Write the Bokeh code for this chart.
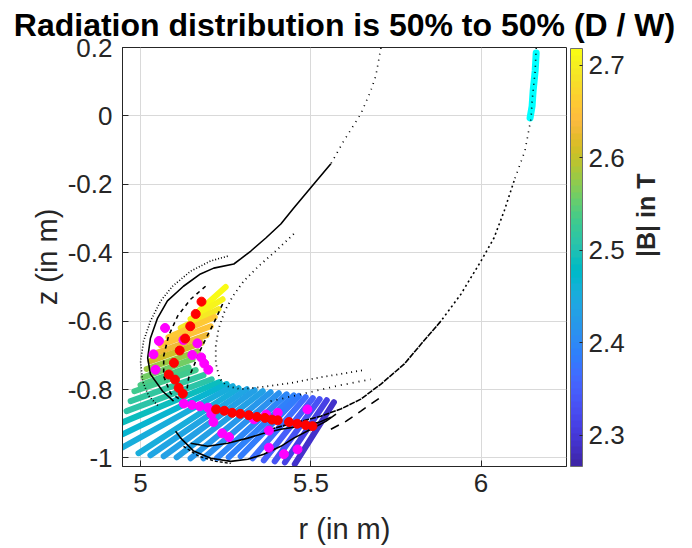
import numpy as np
from bokeh.plotting import figure
from bokeh.models import (ColumnDataSource, Range1d, FixedTicker, ColorBar, LinearColorMapper,
                          LinearAxis)
from bokeh.transform import linear_cmap
from bokeh.embed import file_html
from bokeh.resources import INLINE

# ---------------- data (r, z in m; B in T) ----------------
B_LOW, B_HIGH = 2.266, 2.718

# coloured line-of-sight strokes: lower-left end (r0,z0) -> upper-right end (r1,z1), |B|
stroke_r0 = [5.174, 5.147, 5.118, 5.082, 5.059, 5.044, 5.029, 5.018, 5.009, 5.000,
             4.982, 4.971, 4.959, 4.947, 4.947, 4.947, 4.994, 5.029, 5.068, 5.106,
             5.147, 5.185, 5.224, 5.259, 5.294, 5.329, 5.362, 5.394, 5.424, 5.453]
stroke_z0 = [-0.568, -0.594, -0.620, -0.647, -0.670, -0.694, -0.717, -0.740, -0.764, -0.787,
             -0.805, -0.834, -0.863, -0.896, -0.931, -0.969, -0.986, -0.992, -0.995, -0.998,
             -1.001, -1.001, -1.001, -0.998, -0.995, -1.001, -1.007, -1.010, -1.013, -1.018]
stroke_r1 = [5.250, 5.241, 5.229, 5.218, 5.206, 5.194, 5.179, 5.168, 5.153, 5.141,
             5.162, 5.185, 5.209, 5.232, 5.253, 5.271, 5.288, 5.312, 5.335, 5.359,
             5.382, 5.406, 5.429, 5.450, 5.465, 5.485, 5.506, 5.526, 5.547, 5.568]
stroke_z1 = [-0.500, -0.536, -0.565, -0.588, -0.615, -0.641, -0.664, -0.688, -0.711, -0.735,
             -0.743, -0.758, -0.770, -0.778, -0.784, -0.790, -0.796, -0.799, -0.802, -0.805,
             -0.808, -0.811, -0.814, -0.817, -0.819, -0.822, -0.825, -0.828, -0.831, -0.837]
stroke_B = [2.72, 2.71, 2.69, 2.66, 2.65, 2.63, 2.61, 2.58, 2.56, 2.54,
            2.53, 2.52, 2.51, 2.49, 2.47, 2.45, 2.45, 2.44, 2.43, 2.43,
            2.42, 2.41, 2.40, 2.39, 2.38, 2.37, 2.35, 2.33, 2.31, 2.29]

# red points
red_r = [5.179, 5.162, 5.146, 5.131, 5.115, 5.098, 5.083, 5.101, 5.112, 5.124,
         5.222, 5.246, 5.269, 5.293, 5.318, 5.342, 5.365, 5.386, 5.403, 5.436,
         5.460, 5.485, 5.505]
red_z = [-0.543, -0.579, -0.615, -0.651, -0.686, -0.722, -0.756, -0.771, -0.795, -0.812,
         -0.858, -0.862, -0.868, -0.871, -0.875, -0.880, -0.883, -0.888, -0.890, -0.895,
         -0.900, -0.904, -0.907]

# magenta points
mag_r = [5.072, 5.054, 5.038, 5.044, 5.126, 5.167, 5.152, 5.178, 5.187, 5.199,
         5.127, 5.151, 5.174, 5.198, 5.208, 5.214, 5.240, 5.260, 5.333, 5.369,
         5.403, 5.377, 5.377, 5.421, 5.461, 5.490]
mag_z = [-0.620, -0.658, -0.697, -0.742, -0.655, -0.665, -0.699, -0.706, -0.724, -0.742,
         -0.841, -0.845, -0.849, -0.853, -0.872, -0.895, -0.928, -0.939, -0.887, -0.873,
         -0.868, -0.920, -0.970, -0.989, -0.975, -0.858]

# cyan section on the outer wall
cyan_r = [6.162, 6.159, 6.153, 6.150, 6.144]
cyan_z = [0.184, 0.132, 0.073, 0.029, -0.006]

# black field-line traces
outer_top_r = [6.162, 6.159, 6.150, 6.147, 6.129, 6.097]
outer_top_z = [0.199, 0.132, 0.044, -0.006, -0.102, -0.190]
outer_mid_r = [6.097, 6.068, 6.038, 6.000, 5.941, 5.882]
outer_mid_z = [-0.190, -0.278, -0.357, -0.424, -0.521, -0.600]
outer_low_r = [5.882, 5.824, 5.774, 5.706, 5.647, 5.588, 5.529, 5.471, 5.426, 5.382]
outer_low_z = [-0.600, -0.667, -0.726, -0.784, -0.828, -0.857, -0.878, -0.893, -0.904, -0.916]

inner_top_r = [5.706, 5.691, 5.676, 5.647, 5.597, 5.559]
inner_top_z = [0.199, 0.117, 0.073, 0.006, -0.073, -0.140]
inner_leg_r = [5.559, 5.509, 5.450, 5.412, 5.368, 5.324, 5.294, 5.274,
               5.215, 5.176, 5.126, 5.079, 5.050, 5.029, 5.021, 5.029, 5.065, 5.097]
inner_leg_z = [-0.140, -0.199, -0.269, -0.316, -0.357, -0.395, -0.418, -0.433,
               -0.445, -0.462, -0.498, -0.541, -0.591, -0.650, -0.708, -0.755, -0.805, -0.834]

hook_out_r = [5.256, 5.206, 5.147, 5.094, 5.059, 5.029, 5.009, 5.000, 5.006, 5.024, 5.053]
hook_out_z = [-0.410, -0.424, -0.454, -0.498, -0.541, -0.600, -0.658, -0.717, -0.776, -0.819, -0.849]

hook_in_r = [5.450, 5.397, 5.347, 5.303, 5.271, 5.247, 5.229, 5.221, 5.221, 5.232, 5.253,
             5.294, 5.353, 5.441, 5.529, 5.603, 5.656]
hook_in_z = [-0.345, -0.395, -0.439, -0.483, -0.527, -0.571, -0.623, -0.673, -0.723, -0.767, -0.790,
             -0.799, -0.793, -0.781, -0.764, -0.752, -0.743]

hook_in2_r = [5.382, 5.471, 5.574, 5.676]
hook_in2_z = [-0.834, -0.814, -0.790, -0.770]

dash1_r = [5.241, 5.215, 5.191, 5.171, 5.156, 5.141, 5.135]
dash1_z = [-0.550, -0.606, -0.653, -0.694, -0.732, -0.767, -0.811]
dash2_r = [5.191, 5.147, 5.109, 5.082, 5.068, 5.068, 5.088, 5.124]
dash2_z = [-0.498, -0.536, -0.585, -0.644, -0.702, -0.761, -0.811, -0.834]

lobe_out_r = [5.103, 5.118, 5.156, 5.206, 5.265, 5.315, 5.362, 5.412, 5.450, 5.500, 5.544, 5.574]
lobe_out_z = [-0.922, -0.942, -0.980, -1.001, -1.010, -1.004, -0.989, -0.966, -0.942, -0.916, -0.893, -0.872]
lobe_in_r = [5.147, 5.197, 5.256, 5.315, 5.362, 5.412, 5.471, 5.524, 5.559]
lobe_in_z = [-0.957, -0.966, -0.957, -0.942, -0.928, -0.916, -0.907, -0.896, -0.881]
lobe_low_r = [5.126, 5.171, 5.221, 5.265]
lobe_low_z = [-0.966, -0.995, -1.010, -1.016]
leg_dash_r = [5.559, 5.603, 5.647, 5.706]
leg_dash_z = [-0.916, -0.893, -0.863, -0.822]

x_ticks = [5, 5.5, 6]
y_ticks = [-1, -0.8, -0.6, -0.4, -0.2, 0, 0.2]
cb_ticks = [2.3, 2.4, 2.5, 2.6, 2.7]

PARULA = ["#3e26a8", "#402ab4", "#422ec0", "#4332cb", "#4537d5", "#463cde", "#4741e5", "#4747eb",
          "#484df0", "#4852f4", "#4758f8", "#465efb", "#4563fd", "#4269fe", "#3e6fff", "#3875fe",
          "#327cfc", "#2f81fa", "#2e87f7", "#2d8cf3", "#2b91ef", "#2797eb", "#259be8", "#23a0e5",
          "#20a5e3", "#1ca9df", "#18addb", "#12b1d6", "#08b5d0", "#01b8ca", "#02bac3", "#0bbdbd",
          "#19bfb6", "#24c1ae", "#2cc4a7", "#31c69f", "#37c897", "#3fca8e", "#4acb84", "#57cc7a",
          "#64cd6f", "#72cd64", "#81cc59", "#8fcb4e", "#9dc943", "#abc739", "#b9c431", "#c5c22a",
          "#d1bf27", "#dcbd29", "#e6bb2d", "#f0ba36", "#f8ba3d", "#febe3c", "#fec338", "#fec934",
          "#fccf30", "#fad62d", "#f7dc2a", "#f5e327", "#f5e924", "#f6ef20", "#f7f51b", "#f9fb15"]

FONT = "Liberation Sans"
AX = "#262626"

# ---------------- main axes ----------------
p = figure(width=692, height=548, x_range=Range1d(4.947, 6.251), y_range=Range1d(-1.025, 0.2),
           output_backend="svg", toolbar_location=None,
           min_border_left=122, min_border_right=126, min_border_top=47, min_border_bottom=82)
p.title.text = "Radiation distribution is 50% to 50% (D / W)"
p.title.align = "center"
p.title.vertical_align = "bottom"
p.title.text_font = FONT
p.title.text_font_size = "32px"
p.title.text_font_style = "bold"
p.title.text_color = "black"
p.title.standoff = 9

p.xaxis.ticker = FixedTicker(ticks=x_ticks)
p.yaxis.ticker = FixedTicker(ticks=y_ticks)
p.xaxis.major_label_overrides = {t: f"{t:g}" for t in x_ticks}
p.yaxis.major_label_overrides = {t: f"{t:g}" for t in y_ticks}
p.xaxis.axis_label = "r (in m)"
p.yaxis.axis_label = "z (in m)"
for ax in (p.xaxis[0], p.yaxis[0]):
    ax.axis_line_color = AX
    ax.major_tick_line_color = AX
    ax.major_tick_in = 6
    ax.major_tick_out = 0
    ax.minor_tick_line_color = None
    ax.major_label_text_font = FONT
    ax.major_label_text_font_size = "26px"
    ax.major_label_text_color = AX
    ax.axis_label_text_font = FONT
    ax.axis_label_text_font_size = "29px"
    ax.axis_label_text_font_style = "normal"
    ax.axis_label_text_color = AX
p.xaxis.major_label_standoff = 7
p.yaxis.major_label_standoff = 10
p.xaxis.axis_label_standoff = 18
p.yaxis.axis_label_standoff = 2
p.grid.grid_line_color = "#d9d9d9"
p.outline_line_color = AX

src = ColumnDataSource(dict(r0=stroke_r0, z0=stroke_z0, r1=stroke_r1, z1=stroke_z1, B=stroke_B))
p.segment(x0="r0", y0="z0", x1="r1", y1="z1", source=src, line_width=6, line_cap="round",
          line_color=linear_cmap("B", PARULA, B_LOW, B_HIGH))

p.line(cyan_r, cyan_z, line_color="cyan", line_width=7, line_cap="round")

p.line(outer_top_r, outer_top_z, line_color="black", line_width=1.6, line_dash="1 5")
p.line(outer_mid_r, outer_mid_z, line_color="black", line_width=1.6, line_dash="2 3")
p.line(outer_low_r, outer_low_z, line_color="black", line_width=1.6, line_dash="6 1")
p.line(inner_top_r, inner_top_z, line_color="black", line_width=1.6, line_dash="1 5")
p.line(inner_leg_r, inner_leg_z, line_color="black", line_width=1.6)
p.line(hook_out_r, hook_out_z, line_color="black", line_width=1.6, line_dash="1 2")
p.line(hook_in_r, hook_in_z, line_color="black", line_width=1.8, line_dash="1 4")
p.line(hook_in2_r, hook_in2_z, line_color="black", line_width=1.8, line_dash="1 5")
p.line(dash1_r, dash1_z, line_color="black", line_width=1.6, line_dash="4 4")
p.line(dash2_r, dash2_z, line_color="black", line_width=1.6, line_dash="4 4")
p.line(lobe_out_r, lobe_out_z, line_color="black", line_width=1.6)
p.line(lobe_in_r, lobe_in_z, line_color="black", line_width=1.6)
p.line(lobe_low_r, lobe_low_z, line_color="black", line_width=1.4, line_dash="3 2")
p.line(leg_dash_r, leg_dash_z, line_color="black", line_width=1.6, line_dash="9 7")

p.scatter(mag_r, mag_z, size=9, fill_color="magenta", line_color="magenta")
p.scatter(red_r, red_z, size=9, fill_color="red", line_color="red")

# ---------------- colour bar ----------------
mapper = LinearColorMapper(palette=PARULA, low=B_LOW, high=B_HIGH)
cbar = ColorBar(color_mapper=mapper, location=(4, 0), width=12, height=418, padding=0, margin=0,
                ticker=FixedTicker(ticks=cb_ticks), major_tick_in=3, major_tick_out=0,
                major_tick_line_color=AX, minor_tick_line_color=None,
                major_label_text_font=FONT, major_label_text_font_size="26px",
                major_label_text_color=AX, label_standoff=6,
                bar_line_color="#707070", border_line_color=None, background_fill_color=None)
p.add_layout(cbar, "right")

# colour-bar title: an empty axis that only carries the label
cb_label = LinearAxis(axis_label="|B| in T", ticker=FixedTicker(ticks=[]),
                      axis_line_color=None, major_tick_line_color=None, minor_tick_line_color=None,
                      major_label_text_font_size="0px", major_label_standoff=0,
                      axis_label_standoff=18, axis_label_text_font=FONT,
                      axis_label_text_font_size="25px", axis_label_text_font_style="bold",
                      axis_label_text_color=AX)
if "axis_label_orientation" in cb_label.properties():
    cb_label.axis_label_orientation = np.pi / 2
p.add_layout(cb_label, "right")

open("out.html", "w").write(file_html(p, INLINE))
